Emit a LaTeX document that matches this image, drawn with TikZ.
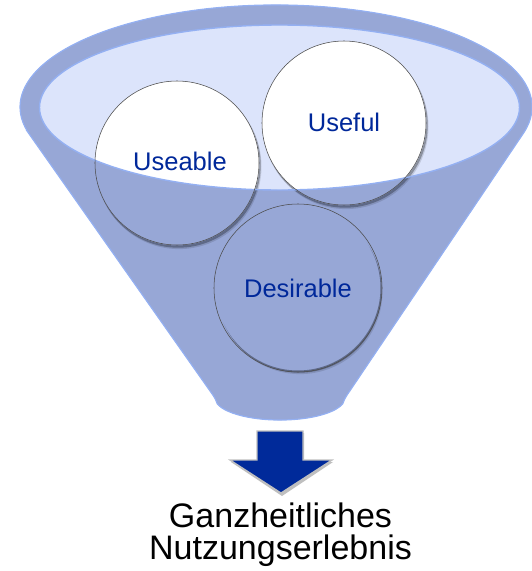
\documentclass[tikz,border=0pt]{standalone}
\usepackage{fontspec}
\setmainfont{Liberation Sans}
\definecolor{funnelblue}{HTML}{97A7D6}
\definecolor{innerblue}{HTML}{DCE4FB}
\definecolor{rimblue}{HTML}{94B0F2}
\definecolor{textblue}{HTML}{00289A}
\definecolor{arrowblue}{HTML}{002A9A}
\tikzset{
  bubble/.style={circle, draw=black!70, line width=0.55pt, minimum size=164pt, inner sep=0pt},
  bubbletext/.style={anchor=base, text=textblue, font=\fontsize{25.5}{28}\selectfont},
  funnelfill/.style={fill=funnelblue},
  rimline/.style={draw=rimblue, line width=1.4pt},
  caption/.style={align=center, font=\fontsize{34}{32}\selectfont, text=black},
}
\newcommand{\funnelpath}{(29.5,134.5) -- (209.2,389.8) .. controls (215,398) .. (217.2,403.7)
  arc[start angle=165, end angle=15, x radius=65, y radius=22]
  .. controls (345,398) .. (350.6,389.8) -- (523.3,133.4)
  arc[start angle=15, end angle=-195.67, x radius=256, y radius=102] -- cycle}
\newcommand{\innerellipse}{(279.5,107.5) ellipse [x radius=240, y radius=82.5]}
\begin{document}
\begin{tikzpicture}[x=1pt,y=-1pt]
\useasboundingbox (0,0) rectangle (531,571);
\coordinate (cU) at (177,163);
\coordinate (cF) at (344,123);
\coordinate (cD) at (298,288);
% back of the funnel
\fill[funnelfill] \funnelpath;
\fill[innerblue] \innerellipse;
% white bubbles inside the opening
\fill[white] (cU) circle (82);
\fill[white] (cF) circle (82);
% front of the funnel
\fill[funnelfill, even odd rule] \funnelpath \innerellipse;
% bubble shadows
\foreach \c in {cU,cF,cD}{
  \begin{scope}[even odd rule]
    \clip (0,0) rectangle (531,571) (\c) circle (82.5);
    \fill[black, opacity=0.28] ([shift={(1.2,2.2)}]\c) circle (82.5);
    \fill[black, opacity=0.12] ([shift={(2,3.6)}]\c) circle (82.5);
  \end{scope}
}
% rims
\draw[rimline] \innerellipse;
\draw[rimline, line width=1.2pt] \funnelpath;
% bubbles
\node[bubble] (useable) at (cU) {};
\node[bubble] (useful) at (cF) {};
\node[bubble, minimum size=168pt] (desirable) at (cD) {};
\node[bubbletext] (tU) at (180,170) {Useable};
\node[bubbletext] (tF) at (344,131) {Useful};
\node[bubbletext] (tD) at (298,297) {Desirable};
% arrow
\fill[black, opacity=0.25] (258,433) -- (304,433) -- (304,462) -- (333,462) -- (282,496) -- (231,462) -- (258,462) -- cycle;
\filldraw[fill=arrowblue, draw=black!25, line width=1.3pt, line join=miter]
  (257,431) -- (303,431) -- (303,460) -- (332,460) -- (281,493) -- (230,460) -- (257,460) -- cycle;
% caption
\node[caption, anchor=base] (cap) at (280.5,559) {Ganzheitliches\\Nutzungserlebnis};
\end{tikzpicture}
\end{document}
